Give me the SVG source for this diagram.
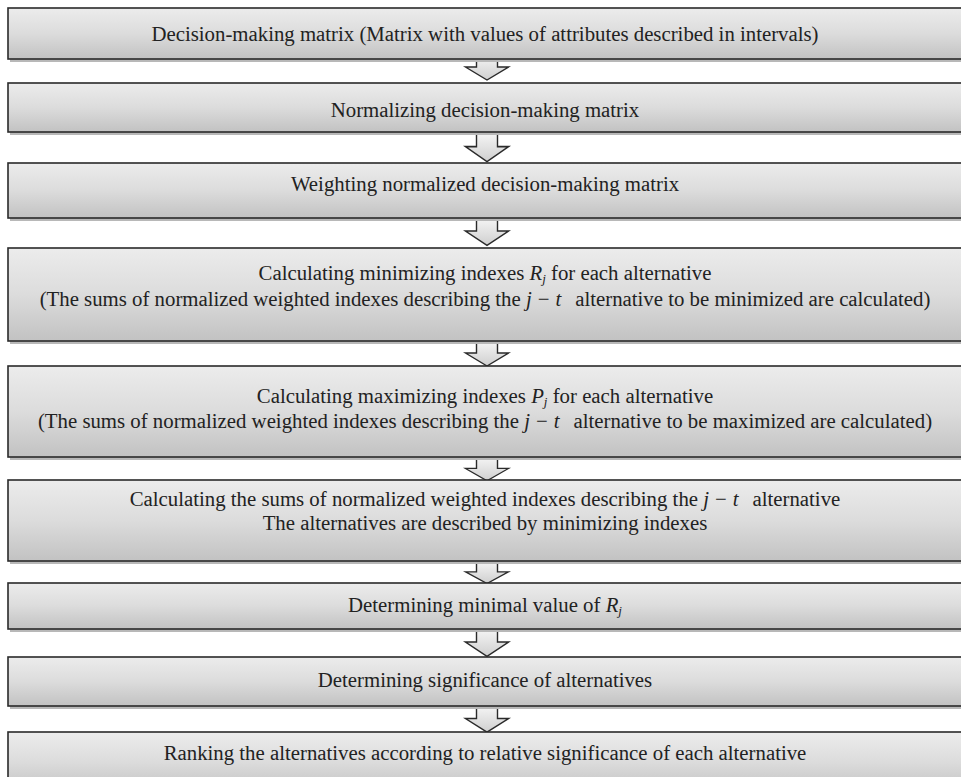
<svg xmlns="http://www.w3.org/2000/svg" width="961" height="777" viewBox="0 0 961 777">
<style>
.box{fill:url(#g);stroke:#2a2a2a;stroke-width:1.6}
.sh{fill:#b8b8b8}
.t{font-family:"Liberation Serif","Times New Roman",serif;font-size:20.8px;fill:#222;text-anchor:middle}
.i{font-style:italic}
.s{font-style:italic;font-size:13px}
.arr{fill:url(#ga);stroke:#2a2a2a;stroke-width:1.4;stroke-linejoin:miter}
</style>
<defs>
<linearGradient id="g" x1="0" y1="0" x2="0" y2="1">
<stop offset="0" stop-color="#ececec"/>
<stop offset="0.5" stop-color="#dcdcdc"/>
<stop offset="1" stop-color="#c2c2c2"/>
</linearGradient>
<linearGradient id="ga" x1="0" y1="0" x2="0" y2="1">
<stop offset="0" stop-color="#f4f4f4"/>
<stop offset="1" stop-color="#cfcfcf"/>
</linearGradient>
<path id="a" d="M-10.5,0 H10.5 V11 H21.5 L0,24 L-21.5,11 H-10.5 Z"/>
</defs>
<rect width="961" height="777" fill="#fff"/>
<g id="connectors">
<use href="#a" class="arr" transform="translate(487,56) scale(1,1)"/>
<use href="#a" class="arr" transform="translate(487,134) scale(1,1.15)"/>
<use href="#a" class="arr" transform="translate(487,219) scale(1,1.1)"/>
<use href="#a" class="arr" transform="translate(487,342) scale(1,1)"/>
<use href="#a" class="arr" transform="translate(487,458) scale(1,0.95)"/>
<use href="#a" class="arr" transform="translate(487,562) scale(1,0.9)"/>
<use href="#a" class="arr" transform="translate(487,630) scale(1,1.1)"/>
<use href="#a" class="arr" transform="translate(487,707) scale(1,1.05)"/>
</g>
<g id="n1"><rect class="sh" x="10" y="10" width="960" height="52"/><rect class="box" x="8" y="8" width="960" height="51"/>
<text class="t" x="485" y="41">Decision-making matrix (Matrix with values of attributes described in intervals)</text></g>
<g id="n2"><rect class="sh" x="10" y="85" width="960" height="50"/><rect class="box" x="8" y="83" width="960" height="49"/>
<text class="t" x="485" y="117">Normalizing decision-making matrix</text></g>
<g id="n3"><rect class="sh" x="10" y="165" width="960" height="56"/><rect class="box" x="8" y="163" width="960" height="55"/>
<text class="t" x="485" y="191">Weighting normalized decision-making matrix</text></g>
<g id="n4"><rect class="sh" x="10" y="250" width="960" height="94"/><rect class="box" x="8" y="248" width="960" height="93"/>
<text class="t" x="485" y="280">Calculating minimizing indexes <tspan class="i">R</tspan><tspan class="s" dy="3">j</tspan><tspan dy="-3"> for each alternative</tspan></text>
<text class="t" x="485" y="306">(The sums of normalized weighted indexes describing the <tspan class="i">j</tspan><tspan dx="6">−</tspan><tspan class="i" dx="6">t</tspan><tspan dx="14">alternative to be minimized are calculated)</tspan></text></g>
<g id="n5"><rect class="sh" x="10" y="368" width="960" height="92"/><rect class="box" x="8" y="366" width="960" height="91"/>
<text class="t" x="485" y="403">Calculating maximizing indexes <tspan class="i">P</tspan><tspan class="s" dy="3">j</tspan><tspan dy="-3"> for each alternative</tspan></text>
<text class="t" x="485" y="428">(The sums of normalized weighted indexes describing the <tspan class="i">j</tspan><tspan dx="6">−</tspan><tspan class="i" dx="6">t</tspan><tspan dx="14">alternative to be maximized are calculated)</tspan></text></g>
<g id="n6"><rect class="sh" x="10" y="482" width="960" height="82"/><rect class="box" x="8" y="480" width="960" height="81"/>
<text class="t" x="485" y="506">Calculating the sums of normalized weighted indexes describing the <tspan class="i">j</tspan><tspan dx="6">−</tspan><tspan class="i" dx="6">t</tspan><tspan dx="14">alternative</tspan></text>
<text class="t" x="485" y="530">The alternatives are described by minimizing indexes</text></g>
<g id="n7"><rect class="sh" x="10" y="585" width="960" height="47"/><rect class="box" x="8" y="583" width="960" height="46"/>
<text class="t" x="485" y="612">Determining minimal value of <tspan class="i">R</tspan><tspan class="s" dy="3">j</tspan></text></g>
<g id="n8"><rect class="sh" x="10" y="659" width="960" height="50"/><rect class="box" x="8" y="657" width="960" height="49"/>
<text class="t" x="485" y="687">Determining significance of alternatives</text></g>
<g id="n9"><rect class="sh" x="10" y="734" width="960" height="60"/><rect class="box" x="8" y="732" width="960" height="60"/>
<text class="t" x="485" y="760">Ranking the alternatives according to relative significance of each alternative</text></g>
</svg>
